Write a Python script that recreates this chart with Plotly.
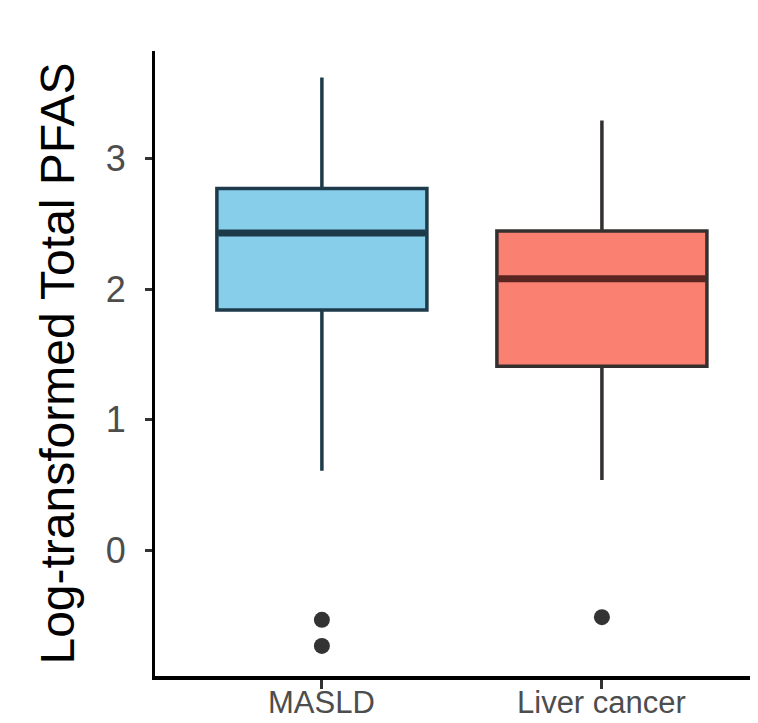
import plotly.graph_objects as go

categories = ["MASLD", "Liver cancer"]
q1 = [1.84, 1.41]
median = [2.43, 2.08]
q3 = [2.77, 2.445]
lower_whisker = [0.61, 0.54]
upper_whisker = [3.62, 3.29]
outliers = [[-0.53, -0.73], [-0.51]]

fill_colors = ["#87CEEB", "#FA8072"]
line_colors = ["#1E3B4B", "#353030"]
median_colors = ["#1C3A4A", "#5A2420"]
y_ticks = [0, 1, 2, 3]

box_w = 0.75
fig = go.Figure()
for i, cat in enumerate(categories):
    fig.add_trace(go.Box(
        x=[i], q1=[q1[i]], median=[median[i]], q3=[q3[i]],
        lowerfence=[lower_whisker[i]], upperfence=[upper_whisker[i]],
        width=box_w, fillcolor=fill_colors[i],
        line=dict(color=line_colors[i], width=3.5),
        whiskerwidth=0, boxpoints=False, showlegend=False, name=cat,
        hoverinfo="skip",
    ))
    fig.add_trace(go.Scatter(
        x=[i - box_w / 2 + 0.005, i + box_w / 2 - 0.005], y=[median[i], median[i]],
        mode="lines", line=dict(color=median_colors[i], width=7),
        showlegend=False, hoverinfo="skip",
    ))
    fig.add_trace(go.Scatter(
        x=[i] * len(outliers[i]), y=outliers[i], mode="markers",
        marker=dict(color="#333333", size=16),
        showlegend=False, hoverinfo="skip",
    ))
    fig.add_annotation(
        x=i, xref="x", y=0, yref="paper", yanchor="bottom", yshift=-45,
        text=cat, showarrow=False, borderpad=0,
        font=dict(size=31, color="#4D4D4D"),
    )

fig.update_layout(
    width=758, height=723,
    margin=dict(l=147, r=0, t=43, b=55),
    paper_bgcolor="white", plot_bgcolor="white",
    font=dict(family="Liberation Sans, Arial, sans-serif"),
    xaxis=dict(
        tickmode="array", tickvals=list(range(len(categories))),
        ticktext=["" for _ in categories],
        range=[-0.596, 1.586], showline=True, linecolor="black", linewidth=3.5,
        ticks="outside", ticklen=9, tickwidth=2.5, tickcolor="#333333",
        showgrid=False, zeroline=False, automargin=False,
    ),
    yaxis=dict(
        tickmode="array", tickvals=y_ticks, ticktext=[str(t) for t in y_ticks],
        range=[-0.96, 3.822], showline=True, linecolor="black", linewidth=3,
        ticks="outside", ticklen=7, tickwidth=2.5, tickcolor="#333333",
        showgrid=False, zeroline=False, automargin=False,
        tickfont=dict(size=36, color="#4D4D4D"), ticklabelstandoff=12,
        title=dict(text="Log-transformed Total PFAS",
                   font=dict(size=48, color="black"), standoff=16),
    ),
)

fig.write_html("out.html")
